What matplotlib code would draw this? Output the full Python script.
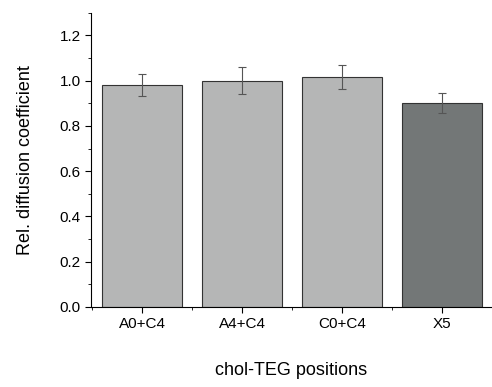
import numpy as np
import matplotlib.pyplot as plt
from matplotlib.ticker import MultipleLocator

plt.rcParams['font.family'] = ['Liberation Sans', 'DejaVu Sans']

# Data
categories = ['A0+C4', 'A4+C4', 'C0+C4', 'X5']
values = [0.98, 1.00, 1.015, 0.90]
errors = [0.05, 0.06, 0.052, 0.045]
colors = ['#b5b6b6', '#b5b6b6', '#b5b6b6', '#737777']

fig = plt.figure(figsize=(4.92, 3.87), dpi=100)
ax = fig.add_axes([0.185, 0.207, 0.815, 0.76])

x = np.arange(1, len(categories) + 1)
ax.bar(x, values, width=0.8, color=colors, edgecolor='#333333', linewidth=0.8,
       yerr=errors, error_kw=dict(ecolor='#555555', elinewidth=0.8, capsize=3, capthick=0.8))

ax.set_xlim(0.49, 4.5)
ax.set_ylim(0, 1.3)
ax.set_xticks(x)
ax.set_xticklabels(categories)
ax.xaxis.set_minor_locator(MultipleLocator(0.5))
ax.yaxis.set_minor_locator(MultipleLocator(0.1))
ax.set_yticks(np.arange(0, 1.21, 0.2))

ax.spines['top'].set_visible(False)
ax.spines['right'].set_visible(False)
ax.tick_params(which='both', direction='out', labelsize=11)
ax.tick_params(which='major', length=4)
ax.tick_params(which='minor', length=2.5)

ax.set_ylabel('Rel. diffusion coefficient', fontsize=13, labelpad=18)
ax.set_xlabel('chol-TEG positions', fontsize=13, labelpad=22)

fig.savefig('out.png', dpi=100)
